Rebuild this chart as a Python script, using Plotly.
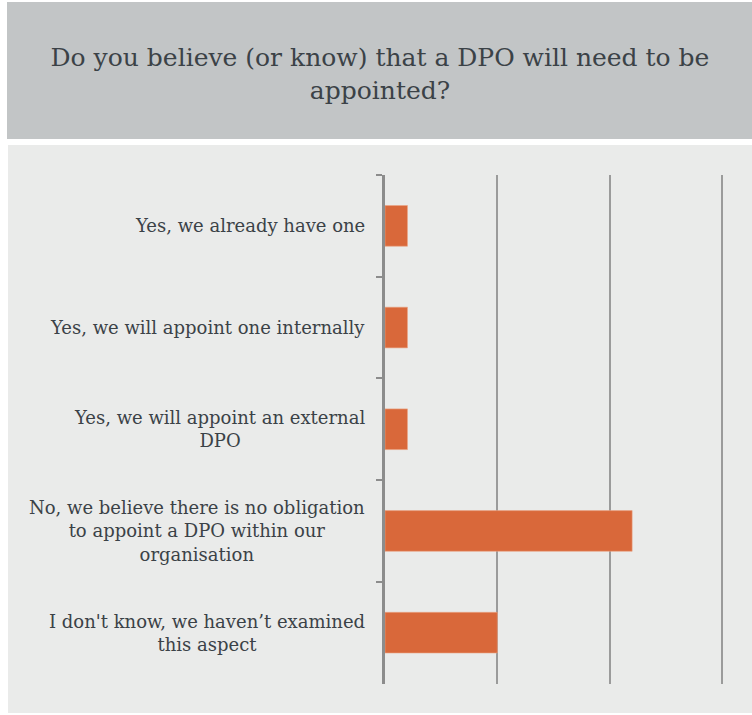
import plotly.graph_objects as go

# Survey answers (top to bottom) and respondent counts
categories = [
    "Yes, we already have one",
    "Yes, we will appoint one internally",
    "Yes, we will appoint an external<br>DPO",
    "No, we believe there is no obligation<br>to appoint a DPO within our<br>organisation",
    "I don't know, we haven’t examined<br>this aspect",
]
counts = [1, 1, 1, 11, 5]
title_text = "Do you believe (or know) that a DPO will need to be<br>appointed?"

W, H = 752, 715
TEXT = "#3b4247"
FONT = "DejaVu Serif"


def fx(px):
    return px / W


def fy(py):
    return 1 - py / H


# pixel width of one unit on the value axis
UNIT = (722 - 385) / 15.0

fig = go.Figure(
    go.Bar(
        x=counts,
        y=categories,
        orientation="h",
        marker=dict(color="#d9683a", line=dict(color="#eba585", width=0.6)),
        hoverinfo="x+y",
    )
)

# Background panels: grey header band and light chart panel
fig.add_shape(type="rect", xref="paper", yref="paper", layer="below",
              x0=fx(7), x1=1, y0=fy(139), y1=fy(2),
              fillcolor="#c2c5c6", line=dict(width=0))
fig.add_shape(type="rect", xref="paper", yref="paper", layer="below",
              x0=fx(8), x1=1, y0=fy(713), y1=fy(145),
              fillcolor="#eaebea", line=dict(width=0))

# Category labels, centred within their own block and right-aligned to the axis
for cat in categories:
    fig.add_annotation(
        xref="paper", yref="y", x=fx(367), y=cat,
        text=cat, showarrow=False, xanchor="right", yanchor="middle",
        align="center", font=dict(family=FONT, size=18, color=TEXT),
    )

fig.update_layout(
    width=W, height=H,
    margin=dict(l=0, r=0, t=0, b=0),
    paper_bgcolor="white",
    plot_bgcolor="rgba(0,0,0,0)",
    showlegend=False,
    bargap=0.6,
    title=dict(
        text=title_text, x=fx(380), xanchor="center",
        y=fy(66), yanchor="middle", xref="paper", yref="paper",
        font=dict(family=FONT, size=25, color=TEXT),
    ),
    xaxis=dict(
        domain=[fx(385), fx(722 + 0.5 * UNIT)], range=[0, 15.5], dtick=5,
        showgrid=True, gridcolor="#9b9b9b", gridwidth=1.5,
        zeroline=False, showticklabels=False, ticks="", showline=False,
        fixedrange=True,
    ),
    yaxis=dict(
        domain=[fy(683.5), fy(175)], autorange="reversed",
        showticklabels=False, showgrid=False, zeroline=False,
        showline=True, linecolor="#8c8c8c", linewidth=2.5,
        ticks="outside", tickson="boundaries", ticklen=6,
        tickcolor="#8c8c8c", tickwidth=1.5,
        fixedrange=True,
    ),
)

fig.write_html("out.html")
